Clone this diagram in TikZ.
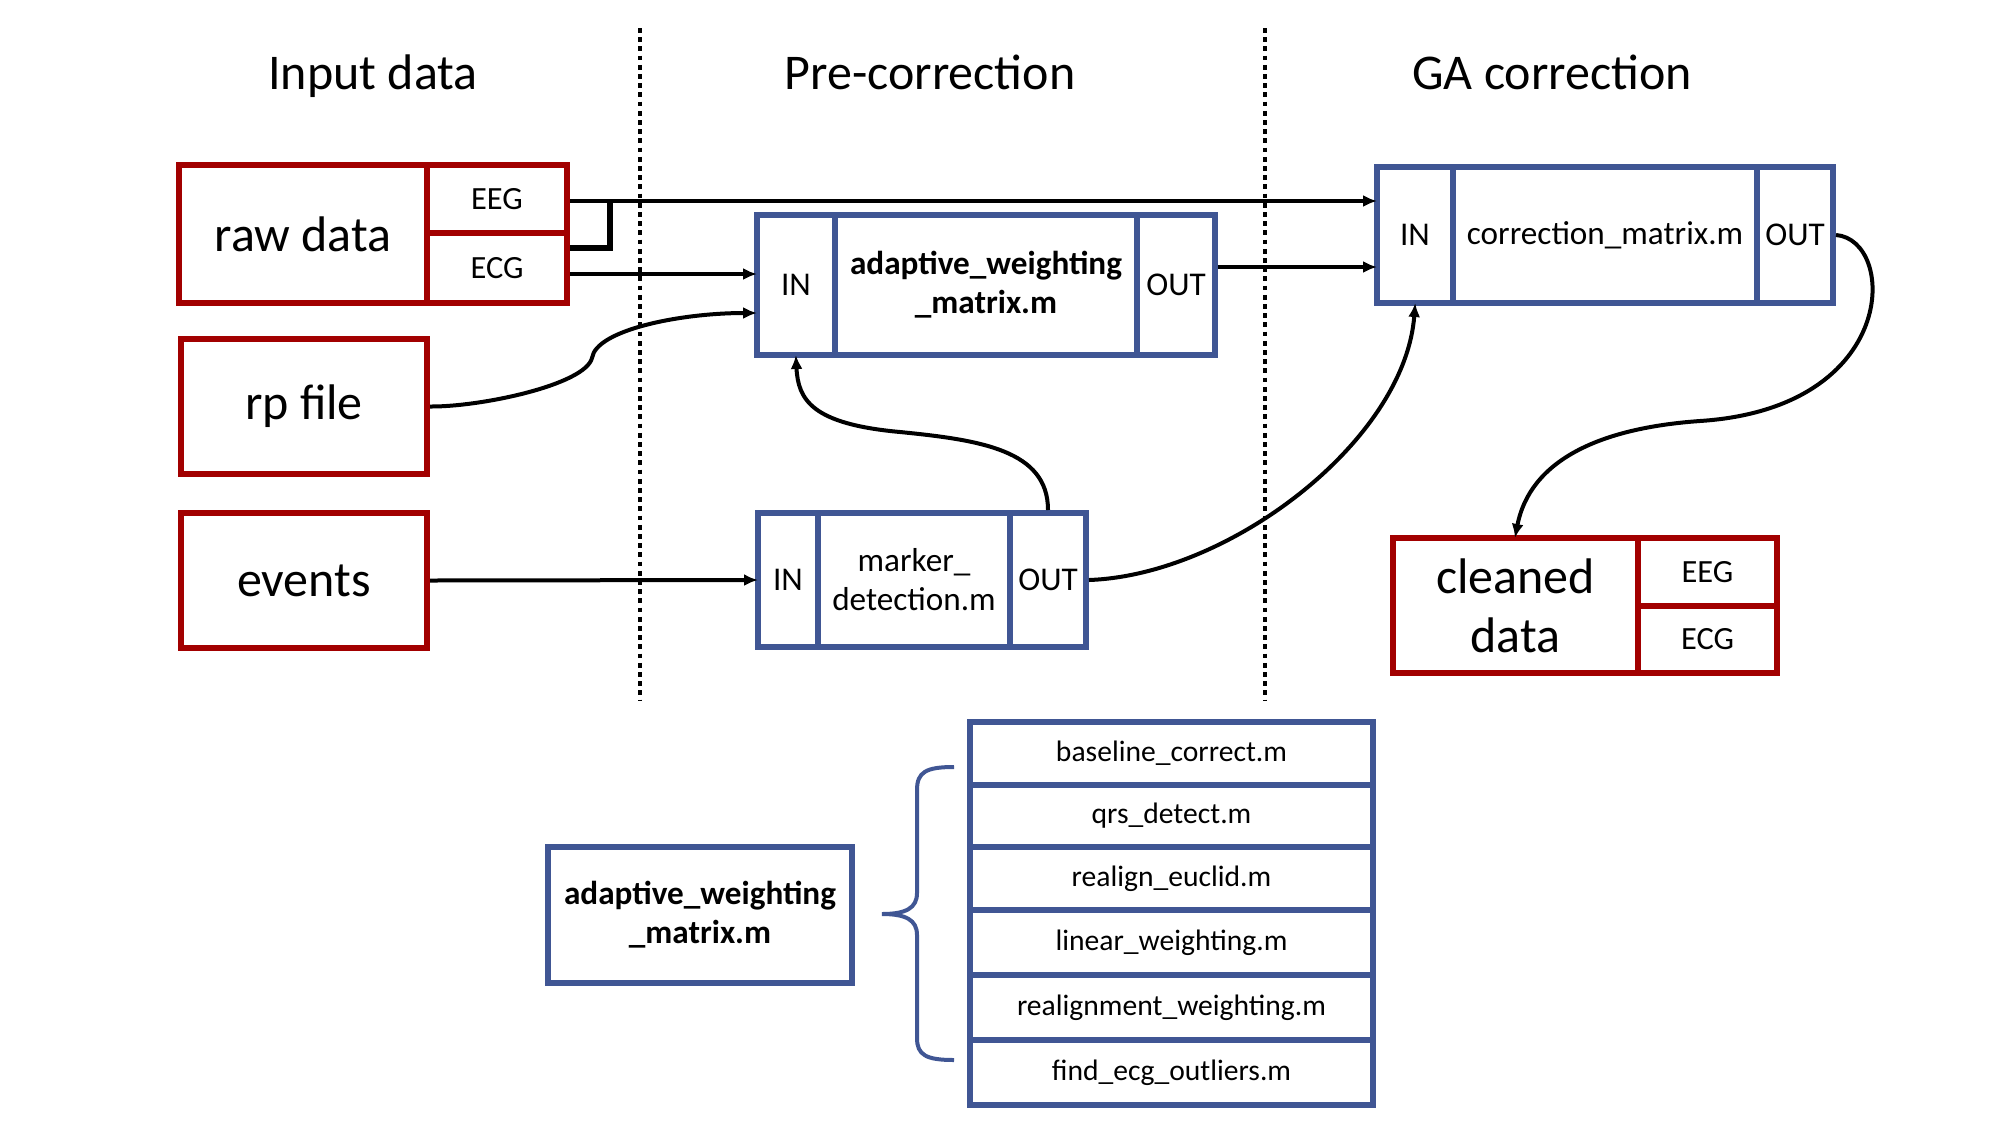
\documentclass[tikz,border=0pt]{standalone}
\usepackage{fontspec}
\setmainfont{Carlito}
\usetikzlibrary{arrows.meta}
\definecolor{boxred}{RGB}{162,0,0}
\definecolor{boxblue}{RGB}{64,86,148}
\begin{document}
\begin{tikzpicture}[x=0.5pt,y=-0.5pt,
  redbox/.style={draw=boxred,line width=3pt,rectangle,inner sep=0pt,align=center},
  bluebox/.style={draw=boxblue,line width=3pt,rectangle,inner sep=0pt,align=center},
  bigtext/.style={font=\fontsize{25}{29.5}\selectfont},
  midtext/.style={font=\fontsize{16.6}{19.5}\selectfont},
  boldtext/.style={font=\fontsize{16.6}{19.5}\selectfont\bfseries},
  smalltext/.style={font=\fontsize{16.2}{19}\selectfont},
  listtext/.style={font=\fontsize{14.8}{17}\selectfont},
  titletext/.style={font=\fontsize{25}{29}\selectfont,inner sep=0pt,anchor=base},
  conn/.style={draw=black,line width=2pt,-{Latex[length=7pt,width=6pt]},shorten >=-1.5pt},
  joinline/.style={draw=black,line width=2.8pt},
  divider/.style={draw=black,line width=2.4pt,dash pattern=on 2.4pt off 2.2pt},
  bracepath/.style={draw=boxblue,line width=2pt}
]
\useasboundingbox (0,0) rectangle (2000,1125);

% section titles
\node[titletext] (t1) at (373,89) {Input data};
\node[titletext] (t2) at (930,89) {Pre-correction};
\node[titletext] (t3) at (1552,89) {GA correction};

% dotted dividers
\draw[divider] (640,28) -- (640,700);
\draw[divider] (1265,28) -- (1265,700);

% input data
\node[redbox,bigtext,minimum width=124pt,minimum height=69pt] (raw) at (303,234) {raw data};
\node[redbox,smalltext,minimum width=70pt,minimum height=34pt] (rEEG) at (497,199) {EEG};
\node[redbox,smalltext,minimum width=70pt,minimum height=35pt] (rECG) at (497,268) {ECG};
\node[redbox,bigtext,minimum width=123pt,minimum height=67.5pt] (rp) at (304,406.5) {rp file};
\node[redbox,bigtext,minimum width=123pt,minimum height=67.5pt] (ev) at (304,580.5) {events};

% adaptive weighting matrix
\node[bluebox,midtext,minimum width=39pt,minimum height=70pt] (aIN) at (796,285) {IN};
\node[bluebox,boldtext,minimum width=151pt,minimum height=70pt] (aMain) at (986,285) {adaptive\_weighting\\\_matrix.m};
\node[bluebox,midtext,minimum width=39pt,minimum height=70pt] (aOUT) at (1176,285) {OUT};

% marker detection
\node[bluebox,midtext,minimum width=30pt,minimum height=67pt] (mIN) at (788,580) {IN};
\node[bluebox,midtext,minimum width=96pt,minimum height=67pt] (mMain) at (914,580) {marker\_\\detection.m};
\node[bluebox,midtext,minimum width=38pt,minimum height=67pt] (mOUT) at (1048,580) {OUT};

% correction matrix
\node[bluebox,midtext,minimum width=38pt,minimum height=68pt] (cIN) at (1415,235) {IN};
\node[bluebox,midtext,minimum width=152pt,minimum height=68pt] (cMain) at (1605,235) {correction\_matrix.m};
\node[bluebox,midtext,minimum width=38pt,minimum height=68pt] (cOUT) at (1795,235) {OUT};

% cleaned data
\node[redbox,bigtext,minimum width=122.5pt,minimum height=67.5pt] (clean) at (1515.5,605.5) {cleaned\\data};
\node[redbox,smalltext,minimum width=69.5pt,minimum height=34pt] (clEEG) at (1707.5,572) {EEG};
\node[redbox,smalltext,minimum width=69.5pt,minimum height=33.5pt] (clECG) at (1707.5,639.5) {ECG};

% lower part
\node[bluebox,boldtext,minimum width=152pt,minimum height=68pt] (awm) at (700,915) {adaptive\_weighting\\\_matrix.m};
\node[bluebox,listtext,minimum width=201.5pt,minimum height=31.5pt] (l1) at (1171.5,753.5) {baseline\_correct.m};
\node[bluebox,listtext,minimum width=201.5pt,minimum height=31pt] (l2) at (1171.5,816) {qrs\_detect.m};
\node[bluebox,listtext,minimum width=201.5pt,minimum height=31.5pt] (l3) at (1171.5,878.5) {realign\_euclid.m};
\node[bluebox,listtext,minimum width=201.5pt,minimum height=32.5pt] (l4) at (1171.5,942.5) {linear\_weighting.m};
\node[bluebox,listtext,minimum width=201.5pt,minimum height=32.5pt] (l5) at (1171.5,1007.5) {realignment\_weighting.m};
\node[bluebox,listtext,minimum width=201.5pt,minimum height=32.5pt] (l6) at (1171.5,1072.5) {find\_ecg\_outliers.m};

% brace
\draw[bracepath] (954,767) .. controls (926,767) and (917,772) .. (917,790)
  -- (917,893) .. controls (917,908) and (906,914) .. (882,914)
  .. controls (906,914) and (917,920) .. (917,935)
  -- (917,1038) .. controls (917,1055) and (926,1060) .. (954,1060);

% connectors
\coordinate (jn) at (610,201);
\draw[joinline] ([yshift=10pt]rECG.east) -| (jn);
\draw[conn] ([yshift=-1pt]rEEG.east) -- ([yshift=-1pt]rEEG.east -| cIN.west);
\draw[conn] ([yshift=-3pt]rECG.east) -- ([yshift=-3pt]rECG.east -| aIN.west);
\draw[conn] ([yshift=9pt]aOUT.east) -- ([yshift=9pt]aOUT.east -| cIN.west);
\draw[conn] (ev.east) -- (mIN.west);
\draw[conn] (rp.east) .. controls (480,407) and (585,385) .. (592,358)
  .. controls (596,330) and (680,313) .. ([yshift=-14pt]aIN.west);
\draw[conn] (mOUT.north) .. controls (1048,450) and (980,440) .. (900,432)
  .. controls (812,424) and (798,400) .. (aIN.south);
\draw[conn] (mOUT.east) .. controls (1230,575) and (1405,440) .. (cIN.south);
\draw[conn] (cOUT.east) .. controls (1897,240) and (1900,408) .. (1700,421)
  .. controls (1600,428) and (1530,460) .. (clean.north);
\end{tikzpicture}
\end{document}
